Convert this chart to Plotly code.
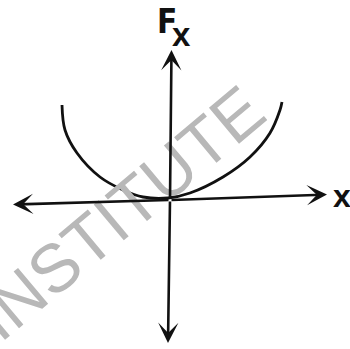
import plotly.graph_objects as go

# Curve F_x(x) (arbitrary units)
curve_x = [-1.08, -1.05, -0.93, -0.70, -0.47, -0.27, -0.02, 0.20, 0.53, 0.80, 1.00, 1.10, 1.12]
curve_y = [0.95, 0.70, 0.47, 0.23, 0.10, 0.03, 0.02, 0.07, 0.23, 0.43, 0.67, 0.90, 0.98]

axis_labels = ["F", "x", "x"]
watermark = "INSTITUTE"

fig = go.Figure()
fig.add_trace(go.Scatter(x=curve_x, y=curve_y, mode="lines",
                         line=dict(color="#111111", width=2.8, shape="spline", smoothing=1.0),
                         hoverinfo="skip", showlegend=False))

ann = []
# watermark (below marks)
ann.append(dict(x=-0.51, y=-0.13, xref="x", yref="y", text=watermark, showarrow=False,
                textangle=-40, font=dict(family="Liberation Sans", size=68, color="#b8b8b8")))
# axes arrows
origin = (0.0, 0.0)
tips = [(-1.57, -0.045), (1.57, 0.055), (0.015, 1.50), (-0.02, -1.43)]
for tx, ty in tips:
    ann.append(dict(x=tx, y=ty, ax=origin[0], ay=origin[1], xref="x", yref="y",
                    axref="x", ayref="y", text="", showarrow=True,
                    arrowhead=3, arrowsize=1.3, arrowwidth=2.6, arrowcolor="#111111"))
# labels
ann.append(dict(x=-0.035, y=1.785, xref="x", yref="y", text=axis_labels[0], showarrow=False,
                font=dict(family="DejaVu Sans Condensed, Liberation Sans", size=33,
                          color="#111111", weight="bold")))
ann.append(dict(x=0.115, y=1.655, xref="x", yref="y", text=axis_labels[1], showarrow=False,
                font=dict(family="Liberation Sans", size=33, color="#111111", weight="bold")))
ann.append(dict(x=1.715, y=0.045, xref="x", yref="y", text=axis_labels[2], showarrow=False,
                font=dict(family="Liberation Sans", size=32, color="#111111", weight="bold")))

fig.update_layout(
    width=350, height=349, margin=dict(l=0, r=0, t=0, b=0),
    paper_bgcolor="white", plot_bgcolor="white",
    xaxis=dict(range=[-1.70, 1.80], visible=False, fixedrange=True),
    yaxis=dict(range=[-1.49, 2.00], visible=False, fixedrange=True),
    annotations=ann,
)
fig.write_html("out.html", config={"displayModeBar": False},
               post_script="document.body.style.margin='0';document.body.style.overflow='hidden';")
